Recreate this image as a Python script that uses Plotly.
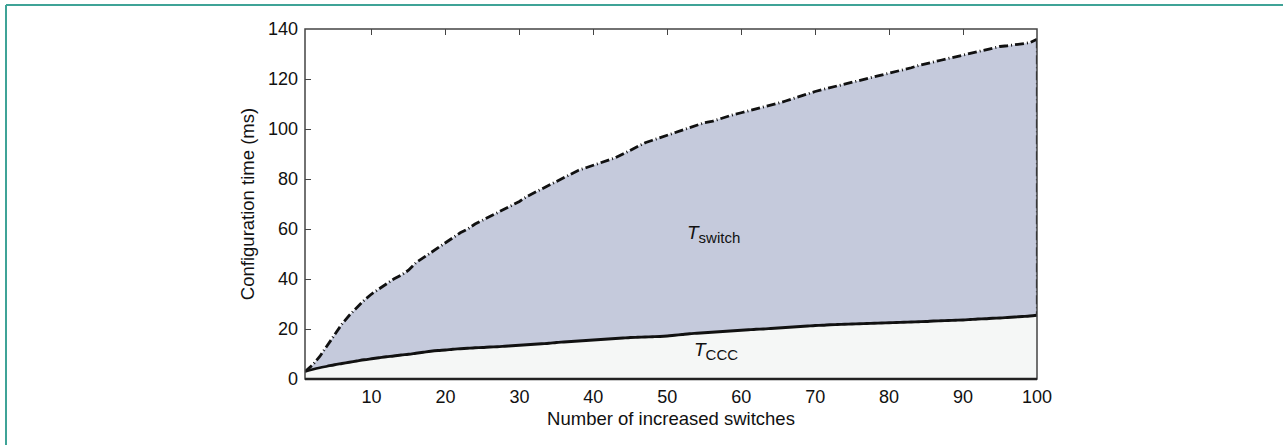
import plotly.graph_objects as go

# Number of increased switches
n_switches = list(range(1, 101))

# T_switch (upper, dash-dot curve), ms
t_switch = [3.0, 5.5, 9.0, 13.5, 18.0, 22.0, 25.5, 28.5, 31.5, 34.0,
            36.0, 38.0, 40.0, 41.5, 43.5, 46.5, 48.5, 50.5, 52.5, 54.5,
            56.5, 58.5, 60.0, 62.0, 63.5, 65.0, 66.5, 68.0, 69.5, 71.0,
            73.0, 74.5, 76.0, 77.5, 79.0, 80.5, 82.0, 83.5, 84.5, 85.5,
            86.5, 87.5, 88.5, 90.0, 91.5, 93.0, 94.5, 95.5, 96.5, 97.5,
            98.5, 99.5, 100.5, 101.5, 102.5, 103.0, 104.0, 105.0, 105.8, 106.5,
            107.2, 108.0, 108.8, 109.5, 110.3, 111.2, 112.2, 113.0, 114.0, 115.0,
            115.8, 116.5, 117.3, 118.1, 118.9, 119.6, 120.3, 121.0, 121.7, 122.3,
            123.0, 123.8, 124.5, 125.4, 126.0, 126.8, 127.5, 128.2, 128.9, 129.6,
            130.3, 131.0, 131.8, 132.5, 133.0, 133.3, 133.6, 134.0, 134.5, 135.9]

# T_CCC (lower, solid curve), ms
t_ccc = [3.0, 3.8, 4.5, 5.1, 5.7, 6.2, 6.7, 7.2, 7.7, 8.1,
         8.5, 8.9, 9.2, 9.6, 9.9, 10.3, 10.7, 11.1, 11.4, 11.6,
         11.9, 12.1, 12.3, 12.5, 12.6, 12.8, 12.9, 13.1, 13.3, 13.5,
         13.7, 13.9, 14.1, 14.3, 14.6, 14.8, 15.0, 15.2, 15.4, 15.6,
         15.8, 16.0, 16.2, 16.4, 16.6, 16.7, 16.8, 16.9, 17.0, 17.2,
         17.5, 17.8, 18.1, 18.3, 18.5, 18.7, 18.9, 19.1, 19.3, 19.5,
         19.7, 19.9, 20.0, 20.2, 20.4, 20.6, 20.8, 21.0, 21.2, 21.4,
         21.5, 21.7, 21.8, 21.9, 22.0, 22.1, 22.2, 22.3, 22.4, 22.5,
         22.6, 22.7, 22.8, 22.9, 23.0, 23.2, 23.3, 23.4, 23.5, 23.6,
         23.8, 24.0, 24.1, 24.3, 24.4, 24.6, 24.8, 25.0, 25.2, 25.5]

x_ticks = [10, 20, 30, 40, 50, 60, 70, 80, 90, 100]
y_ticks = [0, 20, 40, 60, 80, 100, 120, 140]

FONT = "Liberation Sans, Arial, sans-serif"
FS = 18

fig = go.Figure()
fig.add_trace(go.Scatter(
    x=n_switches, y=t_ccc, mode="lines", fill="tozeroy", line_shape="spline",
    fillcolor="#f5f7f6", line=dict(color="#111111", width=2.8),
    showlegend=False, hoverinfo="skip"))
fig.add_trace(go.Scatter(
    x=n_switches, y=t_switch, mode="lines", fill="tonexty",
    fillcolor="#c5cadc", line=dict(color="#111111", width=2.8, dash="9px,3px,1px,3px"),
    showlegend=False, hoverinfo="skip"))
# dashed closing edge at the last point
fig.add_trace(go.Scatter(
    x=[n_switches[-1], n_switches[-1]], y=[t_switch[-1], t_ccc[-1]], mode="lines",
    line=dict(color="#111111", width=2.2, dash="9px,3px,1px,3px"),
    showlegend=False, hoverinfo="skip"))

SUB = '<sub><span style="font-size:15px">{}</span></sub>'
fig.add_annotation(x=56.2, y=58.0, text="<i>T</i>" + SUB.format("switch"), showarrow=False,
                   font=dict(family=FONT, size=19, color="#111111"))
fig.add_annotation(x=56.6, y=11.4, text="<i>T</i>" + SUB.format("CCC"), showarrow=False,
                   font=dict(family=FONT, size=19, color="#111111"))

W, H = 1283, 445
L, R, T, B = 305, 246, 29, 66
pw, ph = W - L - R, H - T - B

# plot frame
fig.add_shape(type="rect", xref="paper", yref="paper", x0=0, y0=0, x1=1, y1=1,
              line=dict(color="#444444", width=1.5), layer="above")
fig.add_shape(type="line", xref="paper", yref="paper", x0=0, y0=0, x1=1, y1=0,
              line=dict(color="#222222", width=2.5), layer="above")
# teal page border (top and left)
bx = (6 - L) / pw
by = (H - B - 5) / ph
fig.add_shape(type="line", xref="paper", yref="paper", x0=bx, y0=by, x1=(W + 20 - L) / pw, y1=by,
              line=dict(color="#3fa397", width=2), layer="above")
fig.add_shape(type="line", xref="paper", yref="paper", x0=bx, y0=by, x1=bx, y1=-(B + 20) / ph,
              line=dict(color="#3fa397", width=2), layer="above")

fig.update_layout(
    width=W, height=H,
    margin=dict(l=L, r=R, t=T, b=B, autoexpand=False),
    paper_bgcolor="white", plot_bgcolor="white",
    font=dict(family=FONT, size=FS, color="#111111"),
    xaxis=dict(range=[1, 100], tickvals=x_ticks, ticks="", showline=False,
               showgrid=False, zeroline=False, layer="below traces",
               tickfont=dict(size=FS), ticklabelstandoff=5,
               title=dict(text="Number of increased switches", font=dict(size=18.5), standoff=6)),
    xaxis2=dict(range=[1, 100], overlaying="x", side="top", tickvals=x_ticks,
                ticks="inside", ticklen=6, tickcolor="#444444", tickwidth=1,
                showticklabels=False, showgrid=False, zeroline=False, showline=False,
                layer="below traces"),
    yaxis=dict(range=[0, 140], tickvals=y_ticks, ticks="inside", ticklen=6,
               tickcolor="#444444", tickwidth=1, showline=False, showgrid=False,
               zeroline=False, layer="below traces", tickfont=dict(size=FS),
               ticklabelstandoff=6,
               title=dict(text="Configuration time (ms)", font=dict(size=18.5), standoff=8)),
)
# invisible trace to activate the top tick axis
fig.add_trace(go.Scatter(x=[n_switches[0]], y=[t_ccc[0]], xaxis="x2", mode="markers",
                         marker=dict(opacity=0), showlegend=False, hoverinfo="skip"))

fig.write_html("out.html", config={"displayModeBar": False},
               post_script="document.body.style.margin='0';document.body.style.overflow='hidden';")
